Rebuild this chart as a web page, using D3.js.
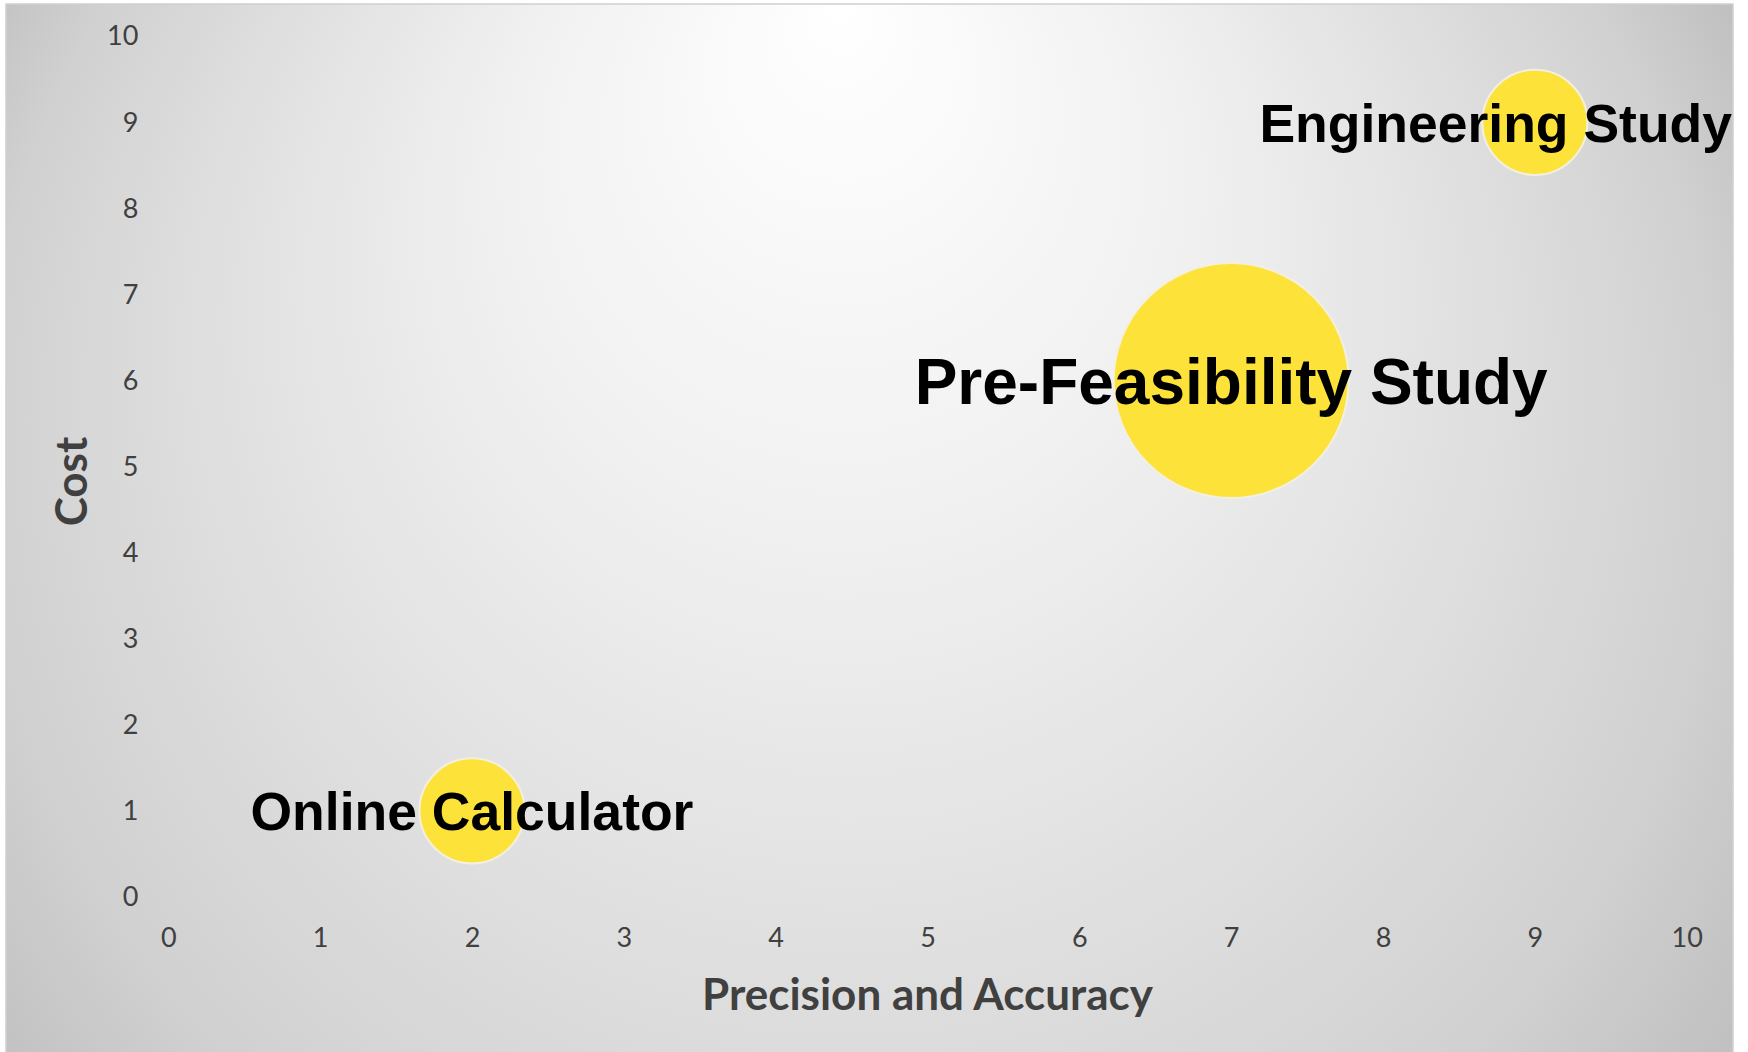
<!DOCTYPE html>
<html>
<head>
<meta charset="utf-8">
<script src="https://cdn.jsdelivr.net/npm/d3@7"></script>
<style>
  body { margin: 0; background: #fff; }
  svg { display: block; }
</style>
</head>
<body>
<svg id="chart"></svg>
<script>
const labels = ['Online Calculator', 'Pre-Feasibility Study', 'Engineering Study'];
const precision = [2, 7, 9];
const cost = [1, 6, 9];
const bubbleSize = [1, 5, 1];
const xTicks = [0, 1, 2, 3, 4, 5, 6, 7, 8, 9, 10];
const yTicks = [0, 1, 2, 3, 4, 5, 6, 7, 8, 9, 10];
const xTitle = 'Precision and Accuracy';
const yTitle = 'Cost';

const width = 1748,
  height = 1052;
const frame = { x: 6, y: 4, w: 1727, h: 1060 };
const plot = { left: 168.3, right: 1686.7, top: 36.3, bottom: 896.9 };

const data = labels.map((name, i) => ({
  name,
  x: precision[i],
  y: cost[i],
  size: bubbleSize[i]
}));

const svg = d3.select('#chart').attr('width', width).attr('height', height);

// background: light spot at the top middle, greying towards the corners
const grad = svg
  .append('defs')
  .append('radialGradient')
  .attr('id', 'bg')
  .attr('gradientUnits', 'userSpaceOnUse')
  .attr('cx', 850)
  .attr('cy', 524)
  .attr('r', 1013)
  .attr('fx', 840)
  .attr('fy', 4);
[
  [0, '#ffffff'],
  [0.35, '#f0f0f0'],
  [0.6, '#e1e1e1'],
  [0.85, '#d1d1d1'],
  [1, '#c1c1c1']
].forEach(([o, c]) => grad.append('stop').attr('offset', o).attr('stop-color', c));

svg
  .append('rect')
  .attr('x', frame.x)
  .attr('y', frame.y)
  .attr('width', frame.w)
  .attr('height', frame.h)
  .attr('fill', 'url(#bg)')
  .attr('stroke', '#d0d0d0')
  .attr('stroke-width', 1.5);

const x = d3.scaleLinear().domain([0, 10]).range([plot.left, plot.right]);
const y = d3.scaleLinear().domain([0, 10]).range([plot.bottom, plot.top]);
const r = d3
  .scaleSqrt()
  .domain([0, d3.max(bubbleSize)])
  .range([0, 117.5]);
const labelSize = d3
  .scaleLinear()
  .domain(d3.extent(bubbleSize))
  .range([53.5, 64]);

const tickFont = g =>
  g
    .call(g => g.select('.domain').remove())
    .call(g => g.selectAll('.tick line').remove())
    .selectAll('text')
    .attr('font-family', 'Lato, sans-serif')
    .attr('font-size', 27)
    .attr('fill', '#404040');

svg
  .append('g')
  .attr('transform', `translate(0,${plot.bottom})`)
  .call(d3.axisBottom(x).tickValues(xTicks).tickSize(0).tickPadding(31))
  .call(tickFont);

svg
  .append('g')
  .attr('transform', `translate(${plot.left},0)`)
  .call(d3.axisLeft(y).tickValues(yTicks).tickSize(0).tickPadding(30))
  .call(tickFont);

svg
  .append('text')
  .attr('x', (plot.left + plot.right) / 2)
  .attr('y', 1010)
  .attr('text-anchor', 'middle')
  .attr('font-family', 'Lato, sans-serif')
  .attr('font-weight', 'bold')
  .attr('font-size', 44)
  .attr('fill', '#404040')
  .text(xTitle);

svg
  .append('text')
  .attr('transform', 'translate(86.7,481.5) rotate(-90)')
  .attr('text-anchor', 'middle')
  .attr('font-family', 'Lato, sans-serif')
  .attr('font-weight', 'bold')
  .attr('font-size', 44)
  .attr('fill', '#404040')
  .text(yTitle);

// bubbles, biggest first so small ones stay on top
svg
  .append('g')
  .selectAll('circle')
  .data(data.slice().sort((a, b) => b.size - a.size))
  .join('circle')
  .attr('cx', d => x(d.x))
  .attr('cy', d => y(d.y))
  .attr('r', d => r(d.size))
  .attr('fill', '#fde23a')
  .attr('stroke', '#f3f0e0')
  .attr('stroke-width', 2);

// data labels centred on the bubble, pushed back inside the chart edge
const rightEdge = frame.x + frame.w - 1;
svg
  .append('g')
  .selectAll('text')
  .data(data)
  .join('text')
  .attr('font-family', '"Liberation Sans", Arial, sans-serif')
  .attr('font-weight', 'bold')
  .attr('font-size', d => labelSize(d.size))
  .attr('fill', '#000')
  .attr('y', d => y(d.y) + 0.36 * labelSize(d.size))
  .text(d => d.name)
  .each(function (d) {
    const w = this.getComputedTextLength();
    let left = x(d.x) - w / 2;
    if (left + w > rightEdge) left = rightEdge - w;
    d3.select(this).attr('x', left);
  });
</script>
</body>
</html>
